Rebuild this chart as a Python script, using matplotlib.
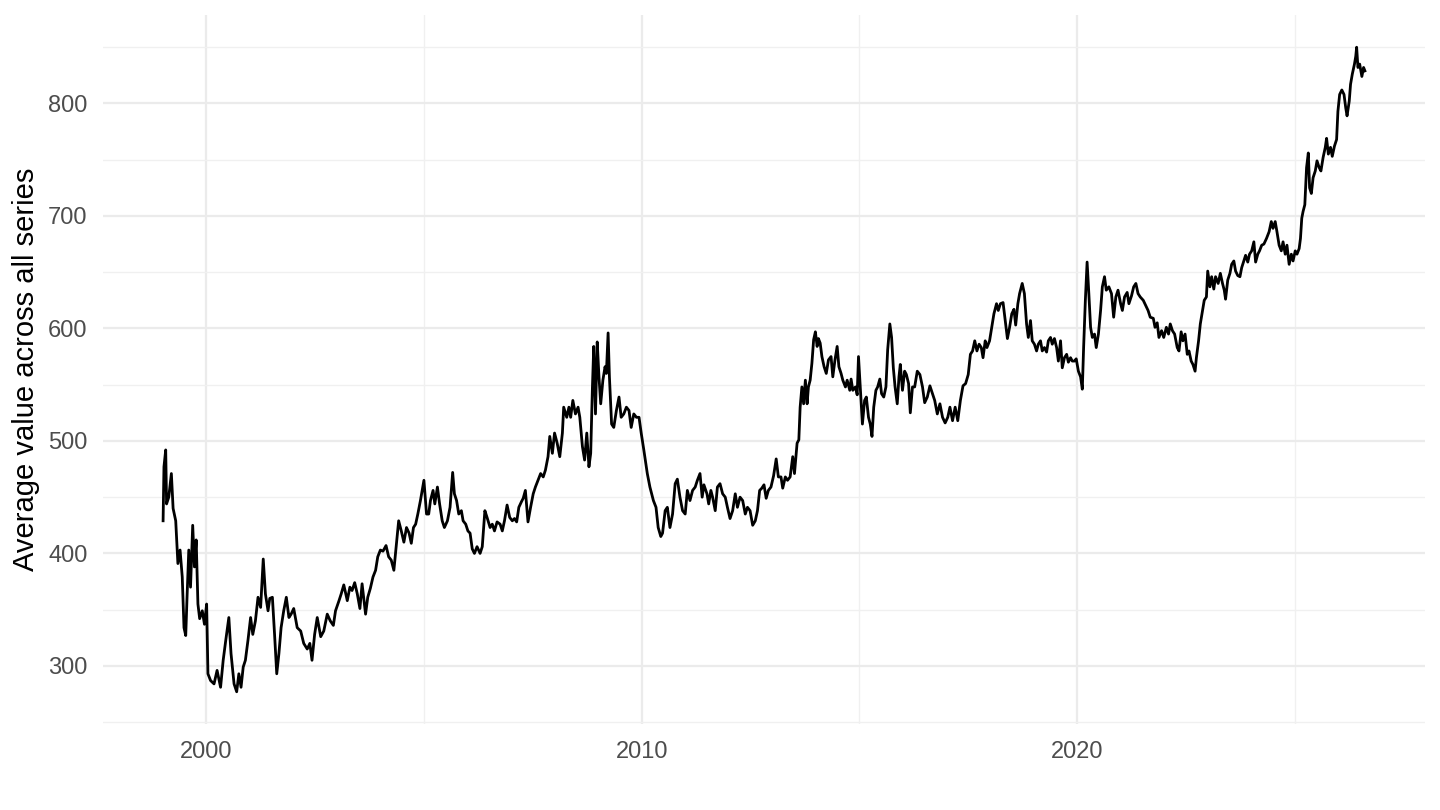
import matplotlib
matplotlib.use("Agg")
import matplotlib.pyplot as plt
from matplotlib.ticker import MultipleLocator

# Average across all series (decimal year, value)
years_1999_2004 = [
    1999.01, 1999.03, 1999.07, 1999.09, 1999.14, 1999.20, 1999.24, 1999.30, 1999.35, 1999.40,
    1999.45, 1999.49, 1999.53, 1999.56, 1999.60, 1999.64, 1999.69, 1999.73, 1999.77, 1999.81,
    1999.85, 1999.91, 1999.96, 2000.01, 2000.04, 2000.10, 2000.18, 2000.25, 2000.33, 2000.39,
    2000.45, 2000.52, 2000.57, 2000.64, 2000.70, 2000.75, 2000.80, 2000.85, 2000.90, 2000.96,
    2001.02, 2001.07, 2001.13, 2001.19, 2001.25, 2001.31, 2001.36, 2001.42, 2001.46, 2001.52,
    2001.57, 2001.62, 2001.67, 2001.72, 2001.78, 2001.84, 2001.90, 2001.95, 2002.01, 2002.09,
    2002.17, 2002.24, 2002.32, 2002.38, 2002.43, 2002.49, 2002.55, 2002.63, 2002.70, 2002.78,
    2002.85, 2002.92, 2002.97, 2003.05, 2003.10, 2003.16, 2003.24, 2003.30, 2003.35, 2003.41,
    2003.47, 2003.53, 2003.58, 2003.66, 2003.71, 2003.77, 2003.83, 2003.89, 2003.94, 2004.00,
    2004.06, 2004.13, 2004.19, 2004.25, 2004.31, 2004.37, 2004.42,
]
values_1999_2004 = [
    429, 477, 492, 444, 450, 471, 440, 429, 391, 403,
    379, 334, 327, 361, 403, 370, 425, 388, 412, 355,
    342, 349, 337, 355, 293, 287, 284, 296, 281, 305,
    323, 343, 311, 284, 277, 293, 281, 299, 305, 323,
    343, 328, 340, 361, 352, 395, 364, 349, 360, 361,
    328, 293, 311, 334, 349, 361, 343, 346, 351, 334,
    331, 320, 315, 320, 305, 328, 343, 326, 331, 346,
    340, 336, 349, 358, 364, 372, 358, 370, 367, 374,
    364, 351, 373, 346, 361, 369, 379, 385, 397, 403,
    402, 407, 397, 394, 385, 409, 429,
]

years_2004_2010 = [
    2004.48, 2004.54, 2004.60, 2004.66, 2004.71, 2004.76, 2004.81, 2004.86, 2004.92, 2005.00,
    2005.06, 2005.11, 2005.15, 2005.21, 2005.25, 2005.31, 2005.36, 2005.42, 2005.47, 2005.54,
    2005.60, 2005.66, 2005.70, 2005.75, 2005.80, 2005.86, 2005.90, 2005.96, 2006.01, 2006.06,
    2006.11, 2006.16, 2006.22, 2006.29, 2006.34, 2006.40, 2006.45, 2006.52, 2006.57, 2006.62,
    2006.68, 2006.75, 2006.80, 2006.85, 2006.91, 2006.97, 2007.03, 2007.08, 2007.13, 2007.18,
    2007.24, 2007.28, 2007.33, 2007.39, 2007.45, 2007.51, 2007.56, 2007.62, 2007.68, 2007.74,
    2007.79, 2007.85, 2007.89, 2007.95, 2008.00, 2008.06, 2008.12, 2008.18, 2008.21, 2008.28,
    2008.33, 2008.37, 2008.42, 2008.48, 2008.54, 2008.58, 2008.64, 2008.69, 2008.74, 2008.79,
    2008.83, 2008.87, 2008.90, 2008.94, 2008.98, 2009.02, 2009.06, 2009.11, 2009.16, 2009.19,
    2009.23, 2009.26, 2009.31, 2009.36, 2009.42, 2009.48, 2009.53, 2009.59, 2009.65, 2009.71,
    2009.76, 2009.82, 2009.88, 2009.94, 2009.99, 2010.05, 2010.13, 2010.19,
]
values_2004_2010 = [
    420, 410, 423, 418, 409, 423, 426, 435, 447, 465,
    435, 435, 447, 456, 444, 459, 444, 429, 423, 429,
    441, 472, 453, 447, 435, 438, 429, 426, 420, 418,
    404, 400, 406, 400, 406, 438, 432, 423, 426, 420,
    428, 426, 420, 429, 443, 432, 429, 431, 428, 441,
    446, 449, 456, 428, 441, 453, 459, 465, 471, 468,
    474, 486, 504, 489, 507, 498, 486, 507, 530, 521,
    530, 521, 536, 524, 530, 521, 495, 483, 507, 477,
    489, 548, 584, 524, 588, 557, 533, 554, 566, 560,
    596, 557, 515, 512, 527, 539, 521, 524, 530, 527,
    512, 524, 521, 521, 507, 492, 471, 459,
]

years_2010_2015 = [
    2010.27, 2010.33, 2010.38, 2010.44, 2010.48, 2010.54, 2010.59, 2010.65, 2010.71, 2010.77,
    2010.82, 2010.88, 2010.94, 2011.00, 2011.05, 2011.11, 2011.17, 2011.23, 2011.28, 2011.34,
    2011.39, 2011.43, 2011.50, 2011.54, 2011.59, 2011.63, 2011.69, 2011.74, 2011.80, 2011.86,
    2011.92, 2011.97, 2012.03, 2012.09, 2012.15, 2012.20, 2012.26, 2012.32, 2012.38, 2012.43,
    2012.49, 2012.55, 2012.61, 2012.66, 2012.71, 2012.76, 2012.81, 2012.86, 2012.91, 2012.97,
    2013.03, 2013.09, 2013.14, 2013.20, 2013.24, 2013.30, 2013.35, 2013.41, 2013.47, 2013.51,
    2013.57, 2013.61, 2013.64, 2013.68, 2013.72, 2013.76, 2013.80, 2013.83, 2013.87, 2013.91,
    2013.95, 2013.99, 2014.03, 2014.06, 2014.10, 2014.14, 2014.19, 2014.24, 2014.29, 2014.35,
    2014.39, 2014.44, 2014.49, 2014.53, 2014.58, 2014.62, 2014.68, 2014.72, 2014.78, 2014.81,
    2014.85, 2014.91, 2014.95, 2014.98, 2015.02, 2015.07, 2015.12, 2015.16, 2015.21, 2015.25,
    2015.29, 2015.33, 2015.38, 2015.42, 2015.47, 2015.51, 2015.56, 2015.61, 2015.65, 2015.70,
]
values_2010_2015 = [
    447, 441, 423, 415, 418, 438, 441, 423, 435, 462,
    466, 450, 438, 435, 456, 447, 456, 459, 465, 471,
    450, 461, 453, 444, 456, 450, 438, 459, 462, 453,
    450, 441, 431, 438, 453, 441, 450, 447, 435, 441,
    438, 425, 429, 438, 456, 458, 461, 449, 456, 459,
    469, 484, 468, 468, 458, 468, 465, 468, 486, 471,
    498, 501, 530, 548, 533, 554, 533, 548, 554, 569,
    590, 597, 584, 591, 587, 575, 566, 560, 572, 575,
    557, 572, 584, 566, 560, 554, 548, 554, 545, 555,
    545, 548, 541, 575, 548, 515, 536, 539, 521, 515,
    504, 530, 545, 548, 555, 542, 539, 548, 581, 604,
]

years_2015_2020 = [
    2015.74, 2015.78, 2015.82, 2015.87, 2015.91, 2015.94, 2015.99, 2016.04, 2016.08, 2016.13,
    2016.17, 2016.22, 2016.27, 2016.33, 2016.39, 2016.45, 2016.50, 2016.56, 2016.62, 2016.68,
    2016.73, 2016.79, 2016.85, 2016.91, 2016.97, 2017.03, 2017.08, 2017.14, 2017.20, 2017.26,
    2017.32, 2017.38, 2017.44, 2017.50, 2017.55, 2017.60, 2017.65, 2017.70, 2017.75, 2017.80,
    2017.84, 2017.89, 2017.93, 2017.99, 2018.04, 2018.09, 2018.15, 2018.19, 2018.24, 2018.30,
    2018.35, 2018.40, 2018.45, 2018.50, 2018.55, 2018.59, 2018.64, 2018.68, 2018.74, 2018.79,
    2018.84, 2018.88, 2018.93, 2018.97, 2019.02, 2019.07, 2019.11, 2019.16, 2019.20, 2019.25,
    2019.30, 2019.34, 2019.39, 2019.43, 2019.48, 2019.53, 2019.57, 2019.62, 2019.66, 2019.71,
    2019.76, 2019.80, 2019.85, 2019.89, 2019.94, 2019.98, 2020.03, 2020.08, 2020.12, 2020.15,
    2020.19, 2020.23, 2020.27, 2020.31, 2020.35, 2020.40, 2020.44, 2020.49, 2020.54, 2020.58,
    2020.63, 2020.67, 2020.73,
]
values_2015_2020 = [
    592, 565, 548, 533, 557, 568, 545, 562, 559, 551,
    525, 548, 548, 562, 559, 548, 534, 539, 549, 542,
    536, 524, 533, 521, 516, 521, 530, 518, 530, 518,
    536, 549, 551, 559, 577, 580, 589, 580, 586, 583,
    574, 589, 583, 589, 601, 613, 622, 616, 622, 623,
    607, 591, 601, 613, 617, 603, 622, 631, 640, 631,
    604, 592, 607, 589, 586, 580, 586, 589, 580, 583,
    579, 589, 592, 586, 591, 583, 571, 589, 565, 574,
    577, 570, 574, 571, 571, 573, 562, 557, 546, 583,
    625, 659, 631, 601, 592, 595, 583, 595, 616, 637,
    646, 634, 637,
]

years_2020_2024 = [
    2020.79, 2020.84, 2020.89, 2020.94, 2021.00, 2021.04, 2021.09, 2021.15, 2021.19, 2021.25,
    2021.30, 2021.35, 2021.40, 2021.45, 2021.52, 2021.58, 2021.63, 2021.68, 2021.75, 2021.79,
    2021.84, 2021.88, 2021.94, 2021.99, 2022.05, 2022.10, 2022.14, 2022.19, 2022.24, 2022.30,
    2022.34, 2022.39, 2022.43, 2022.48, 2022.53, 2022.57, 2022.62, 2022.66, 2022.71, 2022.74,
    2022.79, 2022.83, 2022.88, 2022.92, 2022.97, 2023.00, 2023.05, 2023.09, 2023.14, 2023.18,
    2023.24, 2023.29, 2023.34, 2023.38, 2023.41, 2023.46, 2023.51, 2023.55, 2023.60, 2023.64,
    2023.69, 2023.74, 2023.78, 2023.83, 2023.87, 2023.92, 2023.96, 2024.01, 2024.06, 2024.10,
    2024.15, 2024.19, 2024.24, 2024.29, 2024.35, 2024.41,
]
values_2020_2024 = [
    631, 610, 628, 634, 622, 616, 628, 632, 622, 629,
    637, 640, 631, 628, 625, 620, 616, 610, 609, 601,
    605, 592, 598, 592, 601, 595, 604, 598, 595, 583,
    580, 597, 589, 595, 577, 580, 571, 568, 562, 574,
    589, 604, 616, 625, 628, 651, 637, 646, 635, 646,
    640, 649, 640, 634, 626, 643, 649, 657, 660, 651,
    647, 646, 654, 660, 665, 659, 666, 669, 677, 659,
    666, 669, 674, 675, 680, 686,
]

years_2024_2026 = [
    2024.46, 2024.50, 2024.55, 2024.59, 2024.64, 2024.69, 2024.73, 2024.78, 2024.82, 2024.87,
    2024.92, 2024.96, 2025.01, 2025.05, 2025.10, 2025.13, 2025.16, 2025.19, 2025.23, 2025.27,
    2025.31, 2025.34, 2025.38, 2025.42, 2025.47, 2025.51, 2025.56, 2025.60, 2025.65, 2025.70,
    2025.73, 2025.77, 2025.82, 2025.86, 2025.91, 2025.96, 2025.99, 2026.03, 2026.08, 2026.13,
    2026.17, 2026.20, 2026.25, 2026.28, 2026.32, 2026.37, 2026.40, 2026.42, 2026.45, 2026.49,
    2026.54, 2026.58, 2026.61,
]
values_2024_2026 = [
    695, 689, 695, 686, 674, 669, 677, 666, 674, 657,
    666, 660, 669, 666, 671, 680, 698, 704, 710, 743,
    756, 725, 720, 734, 740, 749, 743, 740, 752, 761,
    769, 755, 761, 753, 762, 768, 793, 808, 812, 808,
    796, 789, 802, 817, 826, 835, 842, 850, 832, 835,
    824, 832, 829,
]

years = (years_1999_2004 + years_2004_2010 + years_2010_2015 + years_2015_2020
         + years_2020_2024 + years_2024_2026)
values = (values_1999_2004 + values_2004_2010 + values_2010_2015 + values_2015_2020
          + values_2020_2024 + values_2024_2026)

x_ticks = [2000, 2010, 2020]
y_ticks = [300, 400, 500, 600, 700, 800]

plt.rcParams["font.family"] = ["Liberation Sans", "DejaVu Sans"]

fig = plt.figure(figsize=(14.4, 8.1), dpi=100)
ax = fig.add_axes([103 / 1440, 1 - 724 / 810, 1322 / 1440, 709 / 810])

ax.plot(years, values, color="black", lw=2.0, solid_joinstyle="round")

# ggplot-style 5% expansion
xr = max(years) - min(years)
yr = max(values) - min(values)
ax.set_xlim(min(years) - 0.05 * xr, max(years) + 0.05 * xr)
ax.set_ylim(min(values) - 0.05 * yr, max(values) + 0.05 * yr)

ax.set_xticks(x_ticks)
ax.set_yticks(y_ticks)
ax.xaxis.set_minor_locator(MultipleLocator(5))
ax.yaxis.set_minor_locator(MultipleLocator(50))
ax.grid(which="major", color="#EBEBEB", lw=1.6)
ax.grid(which="minor", color="#F0F0F0", lw=1.0)
ax.set_axisbelow(True)
for s in ax.spines.values():
    s.set_visible(False)
ax.tick_params(which="both", length=0)
ax.tick_params(axis="x", pad=12, labelsize=17, labelcolor="#4D4D4D")
ax.tick_params(axis="y", pad=11, labelsize=17, labelcolor="#4D4D4D")
ax.set_ylabel("Average value across all series", fontsize=21, color="black", labelpad=6)

fig.savefig("out.png", dpi=100, facecolor="white")
